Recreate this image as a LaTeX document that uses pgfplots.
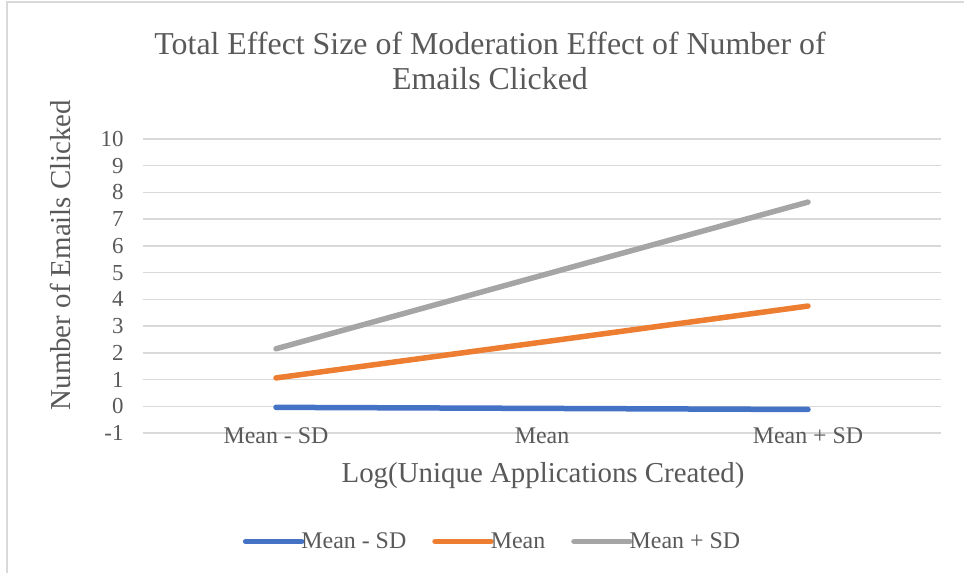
\documentclass[border=0pt]{standalone}
\usepackage{pgfplots}
\pgfplotsset{compat=1.18}
\usepackage{fontspec}
\setmainfont{Liberation Serif}
\definecolor{txt}{HTML}{595959}
\definecolor{grd}{HTML}{D9D9D9}
\definecolor{cblue}{HTML}{4472C4}
\definecolor{corange}{HTML}{ED7D31}
\definecolor{cgray}{HTML}{A5A5A5}
\begin{document}
\begin{tikzpicture}
\begin{axis}[
  at={(0,0)}, anchor=south west,
  width=798bp, height=294bp, scale only axis,
  xmin=-0.5, xmax=2.5, ymin=-1, ymax=10,
  xtick={0,1,2}, xticklabels={Mean - SD, Mean, Mean + SD},
  ytick={-1,0,...,10},
  ymajorgrids, major grid style={grd, line width=1.5bp},
  axis line style={draw=none},
  major tick length=0pt,
  /pgf/number format/assume math mode=true,
  xticklabel style={font=\fontsize{24}{28}\selectfont, text=txt, anchor=center, yshift=-3bp},
  yticklabel style={font=\fontsize{23}{27}\selectfont, text=txt, anchor=east, xshift=-16bp},
  legend style={at={(0.438,-0.369)}, anchor=center, draw=none, fill=none,
    font=\fontsize{24}{28}\selectfont, text=txt, legend columns=3,
    /tikz/every even column/.append style={column sep=24bp},
    inner sep=0pt},
  legend image code/.code={\draw[#1, line cap=round] (0bp,0bp) -- (56bp,0bp);},
  legend cell align=left,
]
\addplot[cblue, line width=5.5bp, line cap=round] coordinates {(0,-0.04) (1,-0.08) (2,-0.12)};
\addlegendentry{\hspace{-5bp}Mean - SD}
\addplot[corange, line width=5.5bp, line cap=round] coordinates {(0,1.06) (1,2.40) (2,3.75)};
\addlegendentry{\hspace{-5bp}Mean}
\addplot[cgray, line width=5.5bp, line cap=round] coordinates {(0,2.15) (1,4.90) (2,7.64)};
\addlegendentry{\hspace{-5bp}Mean + SD}
\end{axis}
% title and axis labels
\node[text=txt, font=\fontsize{32}{35}\selectfont, align=center] at (347bp,372bp) {Total Effect Size of Moderation Effect of Number of\\Emails Clicked};
\node[text=txt, font=\fontsize{29}{33}\selectfont] at (400bp,-43bp) {Log(Unique Applications Created)};
\node[text=txt, font=\fontsize{29}{33}\selectfont, rotate=90] at (-83bp,178bp) {Number of Emails Clicked};
% chart border
\draw[grd, line width=2bp] (-136bp,-140bp) -- (-136bp,431bp) -- (821bp,431bp);
\pgfresetboundingbox
\useasboundingbox (-143bp,-140bp) rectangle (821bp,433bp);
\end{tikzpicture}
\end{document}
